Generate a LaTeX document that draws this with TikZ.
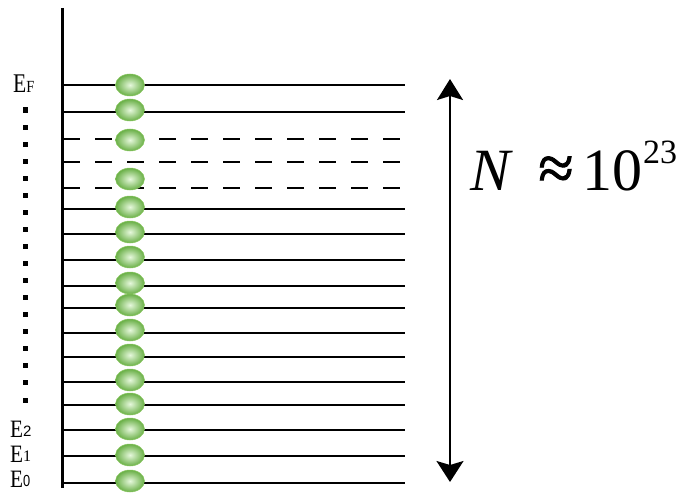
\documentclass[tikz,border=0pt]{standalone}
\usepackage{fontspec}
\setmainfont{Liberation Serif}
\newfontfamily\subsans{Liberation Sans}
\newfontfamily\boldapprox[FakeBold=1.5]{Liberation Serif}
\usetikzlibrary{arrows.meta,shapes.geometric}
\definecolor{ballin}{RGB}{230,248,220}
\definecolor{ballout}{RGB}{105,175,70}
\definecolor{ballrim}{RGB}{140,200,100}
\begin{document}
\begin{tikzpicture}[x=1pt,y=-1pt,
  level/.style={line width=2pt},
  dashlevel/.style={line width=2pt,dash pattern=on 17pt off 15pt},
  electron/.style={ellipse,minimum width=29pt,minimum height=22pt,inner sep=0pt,
     inner color=ballin,outer color=ballout,draw=ballrim,line width=0.5pt},
  dotmark/.style={fill=black,minimum size=5pt,inner sep=0pt,rectangle},
  elabel/.style={inner sep=0pt,anchor=base west},
  big/.style={inner sep=0pt,anchor=base west,font=\fontsize{60}{60}\selectfont}]
\useasboundingbox (0,0) rectangle (687,492);
% axis
\coordinate (axtop) at (62,8);
\coordinate (axbot) at (62,488);
\draw[line width=3pt] (axtop) -- (axbot);
% levels
\foreach \yy in {85,112,209,234,260,286,308,333,357,382,405,430,456,483}
  \draw[level] (63,\yy) -- (405,\yy);
\foreach \yy in {139,162,188}
  \draw[dashlevel] (63,\yy) -- (405,\yy);
% electrons
\foreach \yy [count=\i] in {85,110,140,179,207,232,257,283,305,330,355,380,404,429,455,481}
  \node[electron] (e\i) at (130,\yy) {};
% dots
\foreach \k in {0,...,17}
  \node[dotmark] (d\k) at (25,{110+\k*17.06}) {};
% labels
\node[elabel] (lF) at (13,93) {\fontsize{27}{27}\selectfont\scalebox{0.8}[1]{E}\fontsize{17}{17}\selectfont\scalebox{0.85}[1]{F}};
\node[elabel] (l2) at (10,437) {\fontsize{25}{25}\selectfont\scalebox{0.85}[1]{E}\raisebox{1pt}{\subsans\fontsize{15}{15}\selectfont 2}};
\node[elabel] (l1) at (10,462) {\fontsize{25}{25}\selectfont\scalebox{0.85}[1]{E}\raisebox{1pt}{\fontsize{16}{16}\selectfont 1}};
\node[elabel] (l0) at (10,487) {\fontsize{25}{25}\selectfont\scalebox{0.85}[1]{E}\raisebox{0.5pt}{\subsans\fontsize{16}{16}\selectfont\scalebox{0.8}[1]{0}}};
% arrow
\coordinate (atop) at (450,79);
\coordinate (abot) at (450,482);
\draw[line width=2pt,{Stealth[length=21pt,width=26pt,inset=4pt]}-{Stealth[length=21pt,width=27pt,inset=4pt]}] (atop) -- (abot);
% N approx 10^23
\node[big] (nN) at (470,190) {\textit{N}};
\node[inner sep=0pt] (napprox) at (556,173) {\boldapprox\fontsize{64}{64}\selectfont ≈};
\node[big] (nten) at (582,190) {10};
\node[inner sep=0pt,anchor=base west,font=\fontsize{34}{34}\selectfont] (nexp) at (643,163) {23};
\end{tikzpicture}
\end{document}
